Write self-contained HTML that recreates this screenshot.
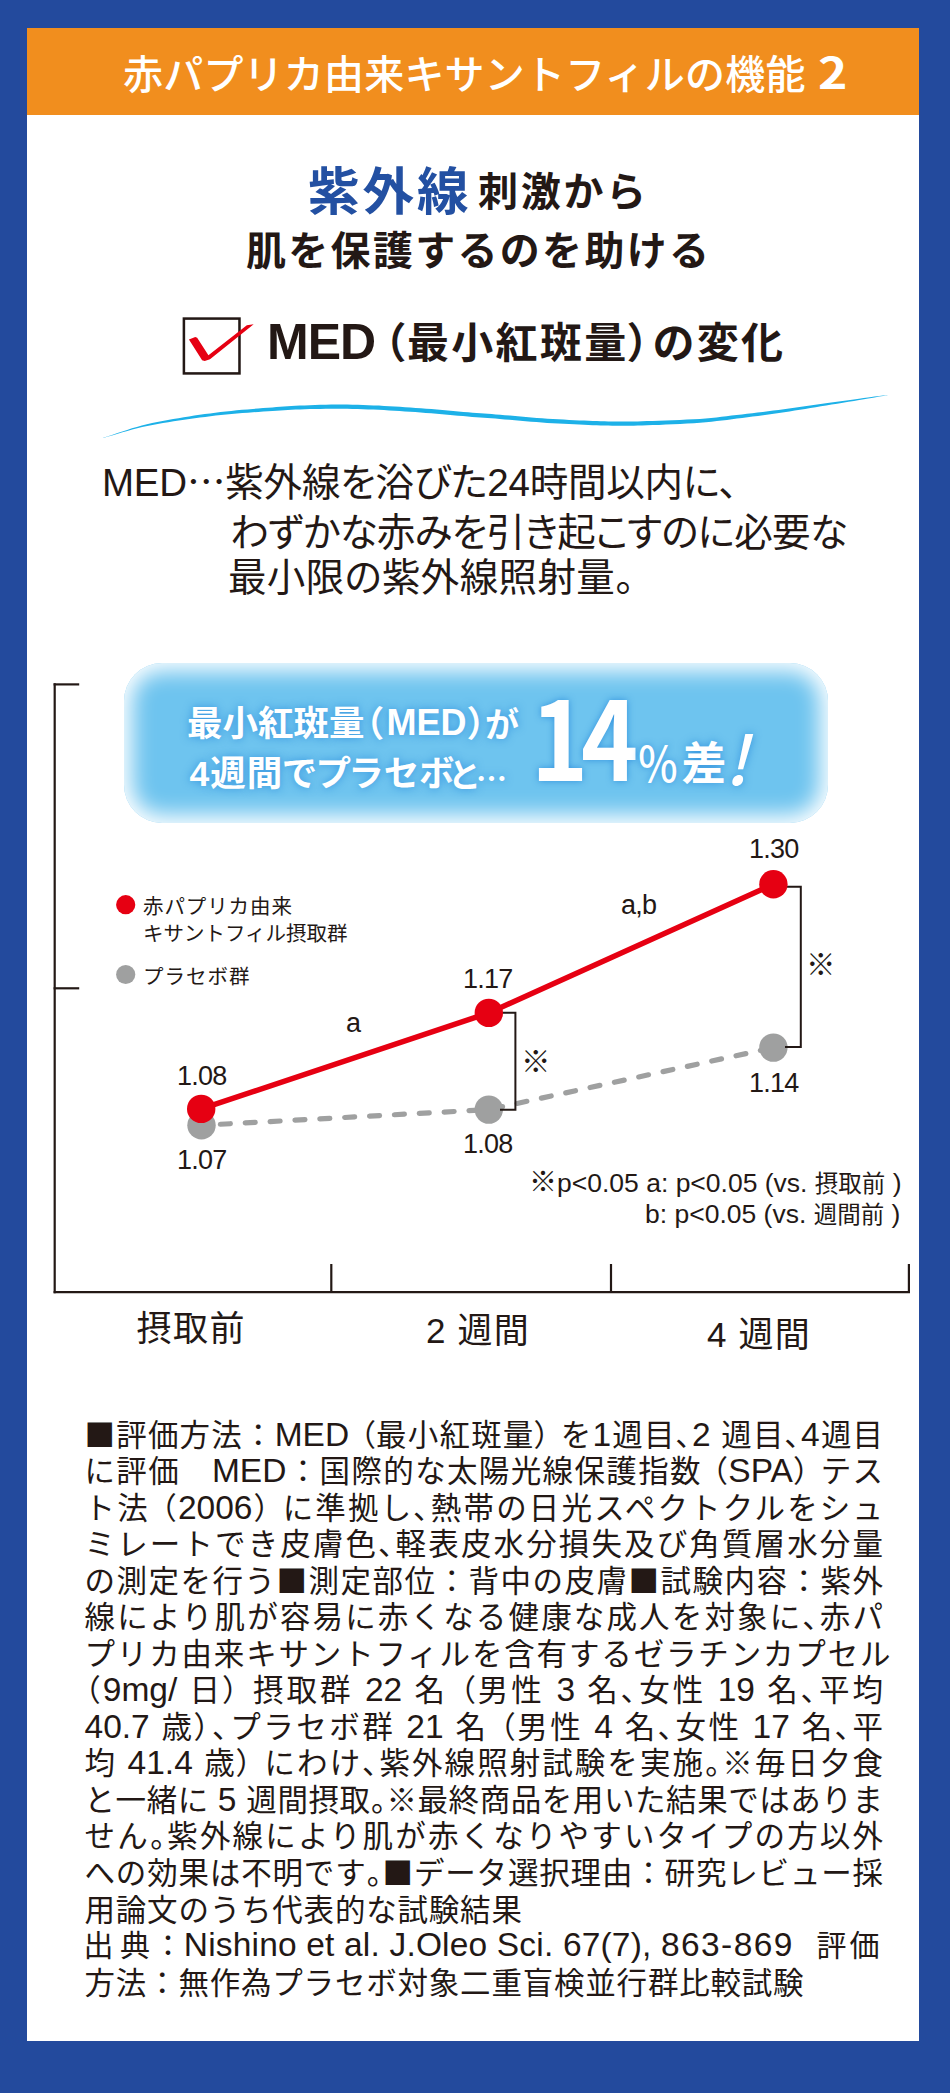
<!DOCTYPE html>
<html lang="ja">
<head>
<meta charset="utf-8">
<title>赤パプリカ由来キサントフィルの機能 2</title>
<style>
html,body{margin:0;padding:0;}
body{width:950px;height:2093px;background:#234a9d;position:relative;overflow:hidden;
  font-family:"Liberation Sans","Noto Sans CJK JP",sans-serif;color:#231815;}
.panel{position:absolute;left:27px;top:28px;width:892px;height:2013px;background:#fff;}
.hdr{position:absolute;left:27px;top:28px;width:892px;height:87px;background:#f18e1e;}
.t{position:absolute;white-space:nowrap;line-height:1;}
.hdr-t{left:123px;top:55px;font-size:40px;font-weight:500;color:#fff;letter-spacing:0.2px;}
.n2{left:818px;top:48.5px;font-weight:700;font-size:43px;font-family:"Noto Sans CJK JP",sans-serif;color:#fff;transform-origin:0 0;transform:scaleX(1.16);}
.ttl1a{left:308px;top:167px;letter-spacing:3px;font-size:51.5px;font-weight:700;color:#2350a2;}
.ttl1b{left:478px;top:171.5px;letter-spacing:2.7px;font-size:40px;font-weight:700;}
.ttl2{left:246px;top:231px;font-size:40px;letter-spacing:2.3px;font-weight:700;}
.med{font-size:42px;font-weight:700;letter-spacing:2.3px;}
.med.m{font-size:50px;letter-spacing:-1px;}
.def{left:103px;font-size:38.5px;font-weight:400;font-feature-settings:"palt";}
.box{position:absolute;left:124px;top:663px;width:704px;height:160px;background:#6ec4ef;border-radius:38px;box-shadow:inset 0 0 22px 8px #fff;}
.bt{color:#fff;font-weight:700;text-shadow:0 0 8px rgba(25,125,215,0.7);}
.bt1{left:187px;top:706.5px;font-size:35.5px;}
.bt2{left:189.5px;top:757px;font-size:35.5px;font-feature-settings:"palt";letter-spacing:1px;}
.b14{left:531px;top:679.4px;font-size:109.5px;letter-spacing:-8px;font-family:"Noto Sans CJK JP",sans-serif;transform-origin:0 0;transform:scaleX(0.885);}
.bpc{left:637px;top:736.6px;font-size:48px;font-weight:500;font-family:"Noto Sans CJK JP",sans-serif;transform-origin:0 0;transform:scaleX(0.87);}
.bsa{left:681.5px;top:742px;font-size:45px;}
.bex{left:724px;top:722px;font-size:67.5px;font-weight:500;font-family:"Noto Sans CJK JP",sans-serif;transform-origin:0 100%;transform:skewX(-14deg);}
.lg{font-size:20.5px;}
.num{font-size:27px;letter-spacing:-0.8px;}
.fn{font-size:26.5px;}
.fj{font-size:23.5px;}
.xl{font-size:35px;}
.cj{font-family:"Noto Sans CJK JP",sans-serif;}
.p{position:absolute;left:84.5px;width:798.5px;font-size:30.5px;line-height:1;white-space:nowrap;text-align:justify;text-align-last:justify;}
.p.l{text-align-last:left;letter-spacing:0.8px;}
.pp{font-feature-settings:"palt";}
.la{font-size:33.5px;line-height:0;}
.p .cj{line-height:0;}
.q{font-size:30px;}
</style>
</head>
<body>
<div class="panel"></div>
<div class="hdr"></div>
<div class="t hdr-t">赤パプリカ由来キサントフィルの機能</div>
<div class="t n2">2</div>

<div class="t ttl1a">紫外線</div>
<div class="t ttl1b">刺激から</div>
<div class="t ttl2">肌を保護するのを助ける</div>

<svg style="position:absolute;left:170px;top:305px" width="100" height="80" viewBox="0 0 950 760">
  <rect x="132" y="129" width="528" height="521" fill="none" stroke="#231815" stroke-width="24"/>
  <path d="M180 328 L240 305 L258 312 L365 478 L730 192 L795 182 L380 515 L330 533 L305 525 Z" fill="#e60012"/>
</svg>
<div class="t med m" style="left:267px;top:317px">MED</div>
<div class="t med" style="left:364.6px;top:323px">（</div>
<div class="t med" style="left:407px;top:323px">最小紅斑量</div>
<div class="t med" style="left:626.4px;top:323px">）</div>
<div class="t med" style="left:652.5px;top:323px">の変化</div>

<svg style="position:absolute;left:0;top:0" width="950" height="500">
  <path d="M103.2 438.0 L108.1 436.6 L112.9 435.2 L117.7 433.7 L122.5 432.3 L127.4 430.9 L132.2 429.5 L137.2 428.3 L142.2 427.1 L147.3 426.0 L152.5 424.9 L157.7 423.9 L163.0 423.0 L168.3 422.2 L173.6 421.3 L178.9 420.5 L184.2 419.7 L189.4 419.0 L194.7 418.2 L199.9 417.5 L205.2 416.9 L210.4 416.2 L215.7 415.6 L220.9 415.1 L226.2 414.5 L231.5 414.0 L236.9 413.6 L242.3 413.1 L247.8 412.7 L253.1 412.3 L258.3 411.9 L263.4 411.6 L268.1 411.3 L272.5 411.0 L276.6 410.7 L280.4 410.4 L284.1 410.2 L287.8 410.0 L291.6 409.8 L295.7 409.6 L300.1 409.4 L304.8 409.3 L309.9 409.1 L315.1 409.0 L320.4 408.9 L325.8 408.8 L331.3 408.7 L336.7 408.7 L342.0 408.7 L347.2 408.8 L352.5 408.9 L357.7 409.0 L362.9 409.2 L368.2 409.4 L373.4 409.6 L378.6 409.8 L383.9 410.1 L389.1 410.4 L394.4 410.7 L399.6 411.0 L404.9 411.4 L410.1 411.7 L415.3 412.1 L420.6 412.5 L425.8 412.9 L431.1 413.3 L436.6 413.8 L442.0 414.2 L447.4 414.7 L452.8 415.2 L458.0 415.7 L463.0 416.1 L467.8 416.5 L472.2 416.9 L476.3 417.2 L480.1 417.5 L483.8 417.8 L487.5 418.0 L491.4 418.3 L495.4 418.6 L499.8 419.0 L504.6 419.4 L509.6 419.8 L514.8 420.3 L520.2 420.8 L525.6 421.2 L531.1 421.7 L536.5 422.1 L541.9 422.5 L547.2 422.9 L552.6 423.2 L558.1 423.5 L563.5 423.8 L568.9 424.1 L574.1 424.3 L579.1 424.6 L583.9 424.8 L588.4 425.0 L592.6 425.2 L596.7 425.3 L600.6 425.4 L604.5 425.5 L608.3 425.6 L612.1 425.7 L616.0 425.7 L619.8 425.7 L623.3 425.7 L626.7 425.7 L630.2 425.7 L633.8 425.7 L637.8 425.6 L642.1 425.5 L647.1 425.3 L652.7 425.1 L659.0 424.9 L665.8 424.6 L672.9 424.3 L680.1 423.9 L687.1 423.6 L693.9 423.2 L700.1 422.7 L705.9 422.2 L711.5 421.7 L716.8 421.1 L721.9 420.5 L727.0 419.9 L732.0 419.3 L737.0 418.6 L742.2 418.0 L747.5 417.3 L752.7 416.6 L758.0 415.9 L763.2 415.2 L768.5 414.5 L773.7 413.7 L779.0 413.0 L784.2 412.2 L789.5 411.4 L794.7 410.6 L800.0 409.7 L805.2 408.9 L810.4 408.0 L815.7 407.2 L820.9 406.3 L826.2 405.5 L831.6 404.6 L837.2 403.7 L842.9 402.7 L848.5 401.8 L854.0 400.9 L859.2 400.1 L863.9 399.3 L868.1 398.6 L871.6 398.0 L874.5 397.5 L877.0 397.0 L879.2 396.6 L881.2 396.3 L883.1 396.0 L885.2 395.6 L887.4 395.2 L887.4 395.0 L885.1 395.3 L883.0 395.5 L881.1 395.8 L879.1 396.0 L876.9 396.3 L874.4 396.6 L871.4 397.0 L867.9 397.4 L863.7 398.0 L859.0 398.7 L853.8 399.4 L848.3 400.2 L842.6 401.0 L836.9 401.8 L831.2 402.6 L825.8 403.3 L820.6 404.1 L815.3 404.8 L810.1 405.6 L804.8 406.3 L799.5 407.1 L794.3 407.8 L789.0 408.5 L783.8 409.2 L778.5 409.9 L773.3 410.6 L768.0 411.3 L762.8 411.9 L757.5 412.6 L752.3 413.2 L747.0 413.8 L741.8 414.4 L736.6 415.0 L731.5 415.6 L726.5 416.3 L721.5 416.8 L716.4 417.4 L711.1 417.9 L705.6 418.4 L699.9 418.9 L693.6 419.3 L686.9 419.6 L679.9 419.9 L672.7 420.2 L665.7 420.5 L658.9 420.7 L652.6 420.9 L646.9 421.1 L642.0 421.3 L637.7 421.4 L633.8 421.5 L630.2 421.5 L626.7 421.5 L623.3 421.5 L619.8 421.5 L616.0 421.5 L612.1 421.5 L608.3 421.4 L604.6 421.3 L600.7 421.2 L596.8 421.1 L592.8 421.0 L588.6 420.8 L584.1 420.6 L579.3 420.4 L574.3 420.2 L569.1 419.9 L563.7 419.6 L558.3 419.3 L552.9 419.0 L547.5 418.7 L542.1 418.3 L536.8 417.9 L531.4 417.5 L526.0 417.0 L520.6 416.6 L515.2 416.1 L510.0 415.6 L504.9 415.2 L500.2 414.8 L495.8 414.5 L491.7 414.1 L487.9 413.8 L484.2 413.6 L480.5 413.3 L476.6 413.0 L472.6 412.7 L468.2 412.3 L463.4 411.9 L458.4 411.5 L453.2 411.0 L447.8 410.5 L442.4 410.0 L436.9 409.6 L431.5 409.1 L426.2 408.7 L420.9 408.3 L415.7 407.9 L410.4 407.5 L405.1 407.2 L399.9 406.8 L394.6 406.5 L389.4 406.2 L384.1 405.9 L378.9 405.6 L373.6 405.4 L368.3 405.2 L363.1 405.0 L357.8 404.8 L352.5 404.7 L347.3 404.6 L342.0 404.5 L336.7 404.5 L331.2 404.6 L325.8 404.7 L320.3 404.8 L315.0 405.0 L309.7 405.2 L304.7 405.4 L299.9 405.6 L295.5 405.8 L291.4 406.0 L287.6 406.2 L283.9 406.5 L280.2 406.8 L276.3 407.1 L272.3 407.4 L267.9 407.7 L263.1 408.1 L258.1 408.5 L252.9 408.9 L247.5 409.4 L242.1 409.8 L236.6 410.3 L231.2 410.9 L225.8 411.5 L220.6 412.1 L215.3 412.7 L210.1 413.4 L204.8 414.1 L199.6 414.8 L194.3 415.6 L189.1 416.4 L183.8 417.3 L178.5 418.2 L173.2 419.1 L167.9 420.0 L162.6 421.0 L157.3 422.0 L152.1 423.1 L146.9 424.3 L141.8 425.5 L136.8 426.9 L131.9 428.3 L127.1 429.9 L122.3 431.4 L117.5 433.0 L112.7 434.7 L108.0 436.2 L103.2 437.8 Z" fill="#1db1e8"/>
</svg>

<div class="t def" style="left:102px;top:460px;letter-spacing:-0.2px">MED<span class="cj">…</span>紫外線を浴びた24時間以内に、</div>
<div class="t def" style="left:230px;top:514px;letter-spacing:-0.65px">わずかな赤みを引き起こすのに必要な</div>
<div class="t def" style="left:228px;top:558.5px;letter-spacing:0.35px">最小限の紫外線照射量。</div>

<div class="box"></div>
<div class="t bt bt1">最小紅斑量</div>
<div class="t bt bt1" style="left:365px;font-feature-settings:'palt'">（</div>
<div class="t bt bt1" style="left:386.5px;font-size:36px;top:704.5px">MED</div>
<div class="t bt bt1" style="left:468px;font-feature-settings:'palt'">）</div>
<div class="t bt bt1" style="left:485px;font-size:34px;top:708px">が</div>
<div class="t bt bt2">4週間でプラセボ</div>
<div class="t bt bt2" style="left:450px;font-size:33px;top:759px">と</div>
<div class="t bt bt2" style="left:476px;font-size:31px;top:761px;letter-spacing:0;font-feature-settings:normal"><span class="cj">…</span></div>
<div class="t bt b14">14</div>
<div class="t bt bpc">％</div>
<div class="t bt bsa">差</div>
<div class="t bt bex">!</div>

<svg style="position:absolute;left:0;top:0" width="950" height="1400">
  <g stroke="#231815" stroke-width="2.2" fill="none">
    <path d="M54.7 683.3 V1293.3"/>
    <path d="M53.6 684.4 H79.2"/>
    <path d="M53.6 988.3 H79.2"/>
    <path d="M53.6 1292.2 H910"/>
    <path d="M331.3 1264 V1292"/>
    <path d="M611 1264 V1292"/>
    <path d="M908.9 1264 V1292"/>
  </g>
  <g stroke="#9fa0a0" stroke-width="5.2" fill="none" stroke-dasharray="10 14.9" stroke-linecap="round">
    <path d="M201.5 1125.3 L488.8 1109.6" stroke-dashoffset="6"/>
    <path d="M488.8 1109.6 L773.4 1047.6" stroke-dashoffset="-4.05"/>
  </g>
  <circle cx="201.5" cy="1125.3" r="14.2" fill="#9fa0a0"/>
  <circle cx="488.8" cy="1109.6" r="14.2" fill="#9fa0a0"/>
  <circle cx="773.4" cy="1047.6" r="14.2" fill="#9fa0a0"/>
  <g stroke="#231815" stroke-width="2" fill="none">
    <path d="M500 1012.8 H515.4 V1109.7 H500"/>
    <path d="M785 886.7 H800.8 V1047 H785"/>
  </g>
  <path d="M201.2 1108.9 L488.8 1012.9 L773.4 884.2" stroke="#e60012" stroke-width="5.5" fill="none"/>
  <circle cx="201.2" cy="1108.9" r="14.2" fill="#e60012"/>
  <circle cx="488.8" cy="1012.9" r="14.2" fill="#e60012"/>
  <circle cx="773.4" cy="884.2" r="14.2" fill="#e60012"/>
  <circle cx="125.7" cy="904.7" r="9.6" fill="#e60012"/>
  <circle cx="125.7" cy="974.5" r="9.6" fill="#9fa0a0"/>
</svg>

<div class="t lg" style="left:143px;top:896.5px;letter-spacing:0.9px">赤パプリカ由来</div>
<div class="t lg" style="left:143px;top:924px">キサントフィル摂取群</div>
<div class="t lg" style="left:143px;top:966.5px;letter-spacing:1px">プラセボ群</div>

<div class="t num" style="left:177px;top:1063px">1.08</div>
<div class="t num" style="left:177px;top:1147px">1.07</div>
<div class="t num" style="left:463px;top:966px">1.17</div>
<div class="t num" style="left:463px;top:1131px">1.08</div>
<div class="t num" style="left:749px;top:836px">1.30</div>
<div class="t num" style="left:749px;top:1070px">1.14</div>
<div class="t num" style="left:346px;top:1010px">a</div>
<div class="t num" style="left:621px;top:892px">a,b</div>
<div class="t" style="left:520.9px;top:1046.5px;font-size:29.5px">※</div>
<div class="t" style="left:805.9px;top:950.4px;font-size:29.5px">※</div>

<div class="t fn" style="left:529px;top:1168.5px"><span class="fj" style="font-size:28px">※</span>p&lt;0.05 a: p&lt;0.05 (vs. <span class="fj">摂取前</span> )</div>
<div class="t fn" style="left:645px;top:1200.5px">b: p&lt;0.05 (vs. <span class="fj">週間前</span> )</div>

<div class="t xl" style="left:136.5px;top:1310.5px;letter-spacing:1.5px">摂取前</div>
<div class="t xl" style="left:426px;top:1312.5px;letter-spacing:1.2px">2 週間</div>
<div class="t xl" style="left:707px;top:1316.5px;letter-spacing:1.2px">4 週間</div>

<div class="p" style="top:1419.5px"><span class="cj">■</span>評価方法：<span class="la">MED </span><span class="pp">（</span>最小紅斑量<span class="pp">）</span> を<span class="la">1</span>週目<span class="pp">、</span><span class="la">2 </span>週目<span class="pp">、</span><span class="la">4</span>週目</div>
<div class="p" style="top:1456.0px">に評価　<span class="la">MED</span>：国際的な太陽光線保護指数 <span class="pp">（</span><span class="la">SPA</span><span class="pp">）</span> テス</div>
<div class="p" style="top:1492.6px">ト法 <span class="pp">（</span><span class="la">2006</span><span class="pp">）</span> に準拠し<span class="pp">、</span>熱帯の日光スペクトクルをシュ</div>
<div class="p" style="top:1529.1px">ミレートでき皮膚色<span class="pp">、</span>軽表皮水分損失及び角質層水分量</div>
<div class="p" style="top:1565.7px">の測定を行う<span class="cj">■</span>測定部位：背中の皮膚<span class="cj">■</span>試験内容：紫外</div>
<div class="p" style="top:1602.2px">線により肌が容易に赤くなる健康な成人を対象に<span class="pp">、</span>赤パ</div>
<div class="p" style="top:1638.7px;width:806px">プリカ由来キサントフィルを含有するゼラチンカプセル</div>
<div class="p" style="top:1675.3px"><span class="pp">（</span><span class="la">9mg/ </span>日<span class="pp">）</span> 摂取群 <span class="la">22 </span>名 <span class="pp">（</span>男性 <span class="la">3 </span>名<span class="pp">、</span>女性 <span class="la">19 </span>名<span class="pp">、</span>平均</div>
<div class="p" style="top:1711.8px"><span class="la">40.7 </span>歳<span class="pp">）</span><span class="pp">、</span>プラセボ群 <span class="la">21 </span>名 <span class="pp">（</span>男性 <span class="la">4 </span>名<span class="pp">、</span>女性 <span class="la">17 </span>名<span class="pp">、</span>平</div>
<div class="p" style="top:1748.4px">均 <span class="la">41.4 </span>歳<span class="pp">）</span> にわけ<span class="pp">、</span>紫外線照射試験を実施<span class="pp">。</span>※毎日夕食</div>
<div class="p" style="top:1784.9px">と一緒に <span class="la">5 </span>週間摂取<span class="pp">。</span>※最終商品を用いた結果ではありま</div>
<div class="p" style="top:1821.4px">せん<span class="pp">。</span>紫外線により肌が赤くなりやすいタイプの方以外</div>
<div class="p" style="top:1858.0px">への効果は不明です<span class="pp">。</span><span class="cj">■</span>データ選択理由：研究レビュー採</div>
<div class="p l" style="top:1894.5px">用論文のうち代表的な試験結果</div>
<div class="t q" style="left:83.6px;top:1931.1px;letter-spacing:6.4px">出典</div>
<div class="t q" style="left:153px;top:1931.1px">：</div>
<div class="t q" style="left:183.8px;top:1931.1px"><span class="la" style="letter-spacing:0.18px">Nishino et al. J.Oleo Sci. 67(7), <span style="letter-spacing:1.4px">863-869</span></span></div>
<div class="t q" style="left:816.5px;top:1931.1px;letter-spacing:3px">評価</div>
<div class="p l" style="top:1967.6px">方法：無作為プラセボ対象二重盲検並行群比較試験</div>
</body>
</html>
